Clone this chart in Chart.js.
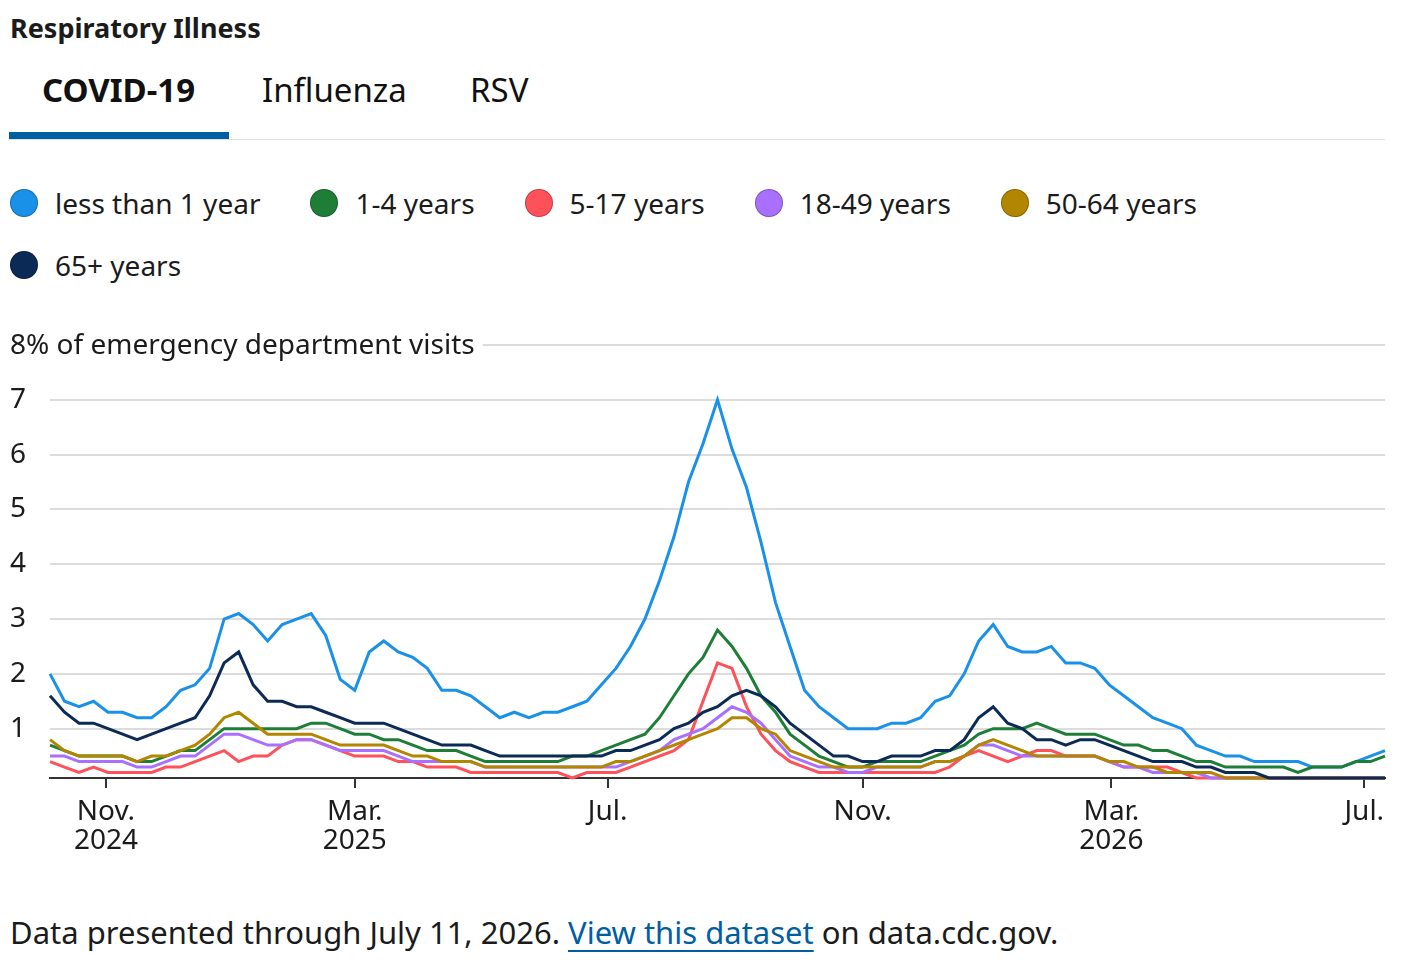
<!DOCTYPE html>
<html>
<head>
<meta charset="utf-8">
<title>Respiratory Illness</title>
<script src="https://cdn.jsdelivr.net/npm/chart.js@4.4.1/dist/chart.umd.min.js"></script>
<style>
  body { margin: 0; background: #fff; font-family: 'Noto Sans', sans-serif; color: #1b1b1b; width: 1414px; height: 972px; position: relative; overflow: hidden; }
  .title { position: absolute; left: 10px; top: 10px; font-size: 27px; font-weight: 700; line-height: 36px; }
  .tab { position: absolute; top: 70px; font-size: 33px; line-height: 40px; color: #111; }
  .tab.active { font-weight: 700; }
  .tabline { position: absolute; left: 9px; top: 139px; width: 1376px; height: 1px; background: #dfe1e2; }
  .tabbar { position: absolute; left: 9px; top: 132px; width: 220px; height: 7px; background: #005ea2; }
  #legend { position: absolute; left: 10px; top: 189px; width: 1260px; display: flex; flex-wrap: wrap; column-gap: 50px; row-gap: 34px; }
  .item { display: flex; align-items: center; height: 28px; font-size: 28px; }
  .dot { width: 28px; height: 28px; border-radius: 50%; margin-right: 17px; box-sizing: border-box; }
  #wrap { position: absolute; left: 10px; top: 325px; width: 1400px; height: 538px; }
  .foot { position: absolute; left: 10px; top: 912px; font-size: 31px; line-height: 40px; }
  .foot a { color: #005ea2; text-decoration: underline; text-decoration-thickness: 2px; text-underline-offset: 6px; }
</style>
</head>
<body>
<div class="title">Respiratory Illness</div>
<div class="tab active" style="left:42px">COVID-19</div>
<div class="tab" style="left:262px">Influenza</div>
<div class="tab" style="left:470px">RSV</div>
<div class="tabline"></div>
<div class="tabbar"></div>
<div id="legend"></div>
<div id="wrap"><canvas id="chart"></canvas></div>
<div class="foot">Data presented through July 11, 2026. <a href="#">View this dataset</a> on data.cdc.gov.</div>
<script>
// weekly values, first week ending 2024-10-05, last 2026-07-11
var firstWeek = '2024-10-05';

var lessThan1 = [2.0, 1.5, 1.4, 1.5, 1.3, 1.3, 1.2, 1.2, 1.4, 1.7, 1.8, 2.1, 3.0, 3.1, 2.9, 2.6, 2.9, 3.0, 3.1, 2.7,
  1.9, 1.7, 2.4, 2.6, 2.4, 2.3, 2.1, 1.7, 1.7, 1.6, 1.4, 1.2, 1.3, 1.2, 1.3, 1.3, 1.4, 1.5, 1.8, 2.1,
  2.5, 3.0, 3.7, 4.5, 5.5, 6.2, 7.0, 6.1, 5.4, 4.4, 3.3, 2.5, 1.7, 1.4, 1.2, 1.0, 1.0, 1.0, 1.1, 1.1,
  1.2, 1.5, 1.6, 2.0, 2.6, 2.9, 2.5, 2.4, 2.4, 2.5, 2.2, 2.2, 2.1, 1.8, 1.6, 1.4, 1.2, 1.1, 1.0, 0.7,
  0.6, 0.5, 0.5, 0.4, 0.4, 0.4, 0.4, 0.3, 0.3, 0.3, 0.4, 0.5, 0.6];
var age1to4 = [0.7, 0.6, 0.5, 0.5, 0.5, 0.5, 0.4, 0.4, 0.5, 0.6, 0.6, 0.8, 1.0, 1.0, 1.0, 1.0, 1.0, 1.0, 1.1, 1.1,
  1.0, 0.9, 0.9, 0.8, 0.8, 0.7, 0.6, 0.6, 0.6, 0.5, 0.4, 0.4, 0.4, 0.4, 0.4, 0.4, 0.5, 0.5, 0.6, 0.7,
  0.8, 0.9, 1.2, 1.6, 2.0, 2.3, 2.8, 2.5, 2.1, 1.6, 1.3, 0.9, 0.7, 0.5, 0.4, 0.3, 0.3, 0.4, 0.4, 0.4,
  0.4, 0.5, 0.6, 0.7, 0.9, 1.0, 1.0, 1.0, 1.1, 1.0, 0.9, 0.9, 0.9, 0.8, 0.7, 0.7, 0.6, 0.6, 0.5, 0.4,
  0.4, 0.3, 0.3, 0.3, 0.3, 0.3, 0.2, 0.3, 0.3, 0.3, 0.4, 0.4, 0.5];
var age5to17 = [0.4, 0.3, 0.2, 0.3, 0.2, 0.2, 0.2, 0.2, 0.3, 0.3, 0.4, 0.5, 0.6, 0.4, 0.5, 0.5, 0.7, 0.8, 0.8, 0.7,
  0.6, 0.5, 0.5, 0.5, 0.4, 0.4, 0.3, 0.3, 0.3, 0.2, 0.2, 0.2, 0.2, 0.2, 0.2, 0.2, 0.1, 0.2, 0.2, 0.2,
  0.3, 0.4, 0.5, 0.6, 0.8, 1.5, 2.2, 2.1, 1.4, 0.9, 0.6, 0.4, 0.3, 0.2, 0.2, 0.2, 0.2, 0.2, 0.2, 0.2,
  0.2, 0.2, 0.3, 0.5, 0.6, 0.5, 0.4, 0.5, 0.6, 0.6, 0.5, 0.5, 0.5, 0.4, 0.3, 0.3, 0.3, 0.3, 0.2, 0.1,
  0.1, 0.1, 0.1, 0.1, 0.1, 0.1, 0.1, 0.1, 0.1, 0.1, 0.1, 0.1, 0.1];
var age18to49 = [0.5, 0.5, 0.4, 0.4, 0.4, 0.4, 0.3, 0.3, 0.4, 0.5, 0.5, 0.7, 0.9, 0.9, 0.8, 0.7, 0.7, 0.8, 0.8, 0.7,
  0.6, 0.6, 0.6, 0.6, 0.5, 0.4, 0.4, 0.4, 0.4, 0.4, 0.3, 0.3, 0.3, 0.3, 0.3, 0.3, 0.3, 0.3, 0.3, 0.3,
  0.4, 0.5, 0.6, 0.8, 0.9, 1.0, 1.2, 1.4, 1.3, 1.1, 0.8, 0.5, 0.4, 0.3, 0.3, 0.2, 0.2, 0.3, 0.3, 0.3,
  0.3, 0.4, 0.4, 0.5, 0.7, 0.7, 0.6, 0.5, 0.5, 0.5, 0.5, 0.5, 0.5, 0.4, 0.3, 0.3, 0.2, 0.2, 0.2, 0.2,
  0.1, 0.1, 0.1, 0.1, 0.1, 0.1, 0.1, 0.1, 0.1, 0.1, 0.1, 0.1, 0.1];
var age50to64 = [0.8, 0.6, 0.5, 0.5, 0.5, 0.5, 0.4, 0.5, 0.5, 0.6, 0.7, 0.9, 1.2, 1.3, 1.1, 0.9, 0.9, 0.9, 0.9, 0.8,
  0.7, 0.7, 0.7, 0.7, 0.6, 0.5, 0.5, 0.4, 0.4, 0.4, 0.3, 0.3, 0.3, 0.3, 0.3, 0.3, 0.3, 0.3, 0.3, 0.4,
  0.4, 0.5, 0.6, 0.7, 0.8, 0.9, 1.0, 1.2, 1.2, 1.0, 0.9, 0.6, 0.5, 0.4, 0.3, 0.3, 0.3, 0.3, 0.3, 0.3,
  0.3, 0.4, 0.4, 0.5, 0.7, 0.8, 0.7, 0.6, 0.5, 0.5, 0.5, 0.5, 0.5, 0.4, 0.4, 0.3, 0.3, 0.2, 0.2, 0.2,
  0.2, 0.1, 0.1, 0.1, 0.1, 0.1, 0.1, 0.1, 0.1, 0.1, 0.1, 0.1, 0.1];
var age65plus = [1.6, 1.3, 1.1, 1.1, 1.0, 0.9, 0.8, 0.9, 1.0, 1.1, 1.2, 1.6, 2.2, 2.4, 1.8, 1.5, 1.5, 1.4, 1.4, 1.3,
  1.2, 1.1, 1.1, 1.1, 1.0, 0.9, 0.8, 0.7, 0.7, 0.7, 0.6, 0.5, 0.5, 0.5, 0.5, 0.5, 0.5, 0.5, 0.5, 0.6,
  0.6, 0.7, 0.8, 1.0, 1.1, 1.3, 1.4, 1.6, 1.7, 1.6, 1.4, 1.1, 0.9, 0.7, 0.5, 0.5, 0.4, 0.4, 0.5, 0.5,
  0.5, 0.6, 0.6, 0.8, 1.2, 1.4, 1.1, 1.0, 0.8, 0.8, 0.7, 0.8, 0.8, 0.7, 0.6, 0.5, 0.4, 0.4, 0.4, 0.3,
  0.3, 0.2, 0.2, 0.2, 0.1, 0.1, 0.1, 0.1, 0.1, 0.1, 0.1, 0.1, 0.1];

var seriesNames = ['less than 1 year', '1-4 years', '5-17 years', '18-49 years', '50-64 years', '65+ years'];
var seriesColors = ['#1a91e8', '#1e7e38', '#ff5159', '#a970ff', '#b38600', '#0b2a55'];
var seriesValues = [lessThan1, age1to4, age5to17, age18to49, age50to64, age65plus];

var tickDates = ['2024-11-01', '2025-03-01', '2025-07-01', '2025-11-01', '2026-03-01', '2026-07-01'];
var tickLabels = [['Nov.', '2024'], ['Mar.', '2025'], 'Jul.', 'Nov.', ['Mar.', '2026'], 'Jul.'];
var yTicks = [1, 2, 3, 4, 5, 6, 7, 8];
var yTitle = '8% of emergency department visits';

var FONT = "'Noto Sans', sans-serif";
var TEXT = '#1b1b1b';

function dayOf(s) {
    return (Date.parse(s) - Date.parse(firstWeek)) / 86400000;
}
var lastDay = (lessThan1.length - 1) * 7;

// legend drawn as html so the two rows wrap like the page
var legend = document.getElementById('legend');
seriesNames.forEach(function (name, i) {
    var item = document.createElement('div');
    item.className = 'item';
    item.innerHTML = '<span class="dot" style="background:' + seriesColors[i] + ';border:1px solid rgba(0,0,0,0.25)"></span>' + name;
    legend.appendChild(item);
});

var topLabel = {
    id: 'topLabel',
    afterDraw: function (chart) {
        var ctx = chart.ctx;
        var y = chart.scales.y;
        var py = y.getPixelForValue(8);
        ctx.save();
        ctx.font = '28px ' + FONT;
        var w = ctx.measureText(yTitle).width;
        ctx.fillStyle = '#fff';
        ctx.fillRect(y.left, py - 4, w + 8, 8);
        ctx.fillStyle = TEXT;
        ctx.textBaseline = 'middle';
        ctx.fillText(yTitle, y.left, py + 1);
        ctx.restore();
    }
};

var ctx = document.getElementById('chart');
new Chart(ctx, {
    type: 'line',
    data: {
        datasets: seriesValues.map(function (vals, i) {
            return {
                label: seriesNames[i],
                data: vals.map(function (v, k) { return { x: k * 7, y: v }; }),
                borderColor: seriesColors[i],
                backgroundColor: seriesColors[i],
                borderWidth: 3,
                pointRadius: 0,
                tension: 0,
                clip: false,
                order: seriesValues.length - 1 - i
            };
        })
    },
    options: {
        responsive: true,
        maintainAspectRatio: false,
        animation: false,
        layout: { padding: { top: 20, right: 25, left: 0, bottom: 0 } },
        plugins: {
            legend: { display: false },
            tooltip: { enabled: false }
        },
        scales: {
            x: {
                type: 'linear',
                min: 0,
                max: lastDay,
                afterBuildTicks: function (s) {
                    s.ticks = tickDates.map(function (d) { return { value: dayOf(d) }; });
                },
                afterFit: function (s) { s.height = 85; },
                ticks: {
                    autoSkip: false,
                    maxRotation: 0,
                    padding: 9,
                    color: TEXT,
                    font: { family: FONT, size: 28, lineHeight: 1.05 },
                    callback: function (v, i) { return tickLabels[i]; }
                },
                grid: { drawOnChartArea: false, drawTicks: true, tickLength: 10, color: '#333', lineWidth: 2 },
                border: { display: true, color: '#333', width: 2 }
            },
            y: {
                min: 0.1,
                max: 8,
                afterBuildTicks: function (s) {
                    s.ticks = yTicks.map(function (v) { return { value: v }; });
                },
                afterFit: function (s) { s.width = 40; },
                ticks: {
                    crossAlign: 'far',
                    padding: 0,
                    color: TEXT,
                    font: { family: FONT, size: 28 },
                    callback: function (v) { return v === 8 ? '' : v; }
                },
                grid: { color: '#dcdcdc', lineWidth: 2, drawTicks: false },
                border: { display: false }
            }
        }
    },
    plugins: [topLabel]
});
</script>
</body>
</html>
